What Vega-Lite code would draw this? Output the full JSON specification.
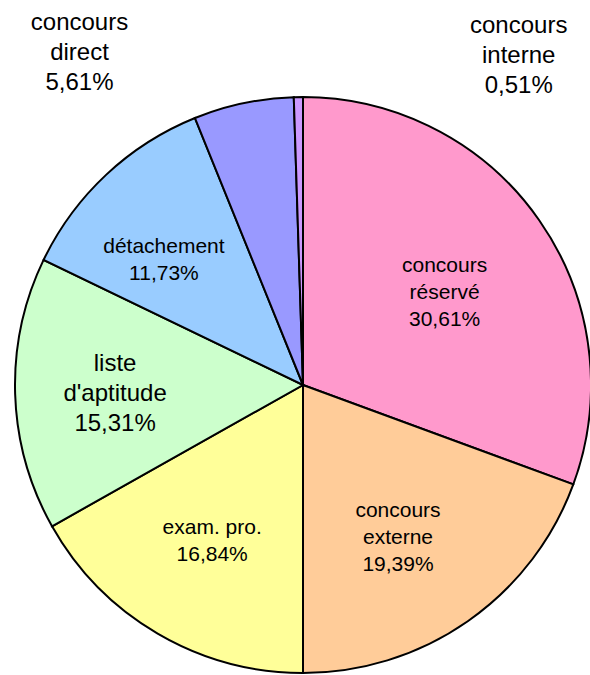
{
  "$schema": "https://vega.github.io/schema/vega-lite/v6.json",
  "width": 574,
  "height": 580,
  "autosize": {"type": "none"},
  "padding": {"left": 16, "top": 95, "right": 0, "bottom": 0},
  "background": "white",
  "config": {"view": {"stroke": null}, "text": {"font": "Liberation Sans", "fill": "black", "align": "center", "baseline": "middle", "lineBreak": "\n"}},
  "data": {
    "values": [
      {"category": "concours réservé", "pct": 30.61, "label": "concours\nréservé\n30,61%"},
      {"category": "concours externe", "pct": 19.39, "label": "concours\nexterne\n19,39%"},
      {"category": "exam. pro.", "pct": 16.84, "label": "exam. pro.\n16,84%"},
      {"category": "liste d'aptitude", "pct": 15.31, "label": "liste\nd'aptitude\n15,31%"},
      {"category": "détachement", "pct": 11.73, "label": "détachement\n11,73%"},
      {"category": "concours direct", "pct": 5.61, "label": "concours\ndirect\n5,61%"},
      {"category": "concours interne", "pct": 0.51, "label": "concours\ninterne\n0,51%"}
    ]
  },
  "encoding": {
    "theta": {"field": "pct", "type": "quantitative", "stack": true},
    "order": {"field": "pct", "type": "quantitative", "sort": "descending"}
  },
  "layer": [
    {
      "mark": {"type": "arc", "radius": 288, "stroke": "black", "strokeWidth": 2},
      "encoding": {
        "color": {
          "field": "category",
          "type": "nominal",
          "scale": {
            "domain": ["concours réservé", "concours externe", "exam. pro.", "liste d'aptitude", "détachement", "concours direct", "concours interne"],
            "range": ["#FF99CC", "#FFCC99", "#FFFF99", "#CCFFCC", "#99CCFF", "#9999FF", "#CC99FF"]
          },
          "legend": null
        }
      }
    },
    {
      "mark": {"type": "text", "radius": 180, "dx": -6, "dy": -16, "fontSize": 21, "lineHeight": 27},
      "encoding": {"text": {"condition": {"test": "datum.category === 'concours réservé'", "field": "label"}, "value": ""}}
    },
    {
      "mark": {"type": "text", "radius": 180, "dx": -8, "dy": -22, "fontSize": 21, "lineHeight": 27},
      "encoding": {"text": {"condition": {"test": "datum.category === 'concours externe'", "field": "label"}, "value": ""}}
    },
    {
      "mark": {"type": "text", "radius": 180, "dx": 0, "dy": -12, "fontSize": 21, "lineHeight": 27},
      "encoding": {"text": {"condition": {"test": "datum.category === 'exam. pro.'", "field": "label"}, "value": ""}}
    },
    {
      "mark": {"type": "text", "radius": 180, "dx": -16, "dy": -7, "fontSize": 21, "lineHeight": 27},
      "encoding": {"text": {"condition": {"test": "datum.category === 'détachement'", "field": "label"}, "value": ""}}
    },
    {
      "mark": {"type": "text", "radius": 188, "dx": 0, "dy": -27, "fontSize": 24, "lineHeight": 30},
      "encoding": {"text": {"condition": {"test": "datum.category === \"liste d'aptitude\"", "field": "label"}, "value": ""}}
    },
    {
      "mark": {"type": "text", "radius": 341, "dx": -153, "dy": -28, "fontSize": 24, "lineHeight": 30},
      "encoding": {"text": {"condition": {"test": "datum.category === 'concours direct'", "field": "label"}, "value": ""}}
    },
    {
      "mark": {"type": "text", "radius": 330, "dx": 221, "dy": -29, "fontSize": 24, "lineHeight": 30},
      "encoding": {"text": {"condition": {"test": "datum.category === 'concours interne'", "field": "label"}, "value": ""}}
    }
  ]
}
